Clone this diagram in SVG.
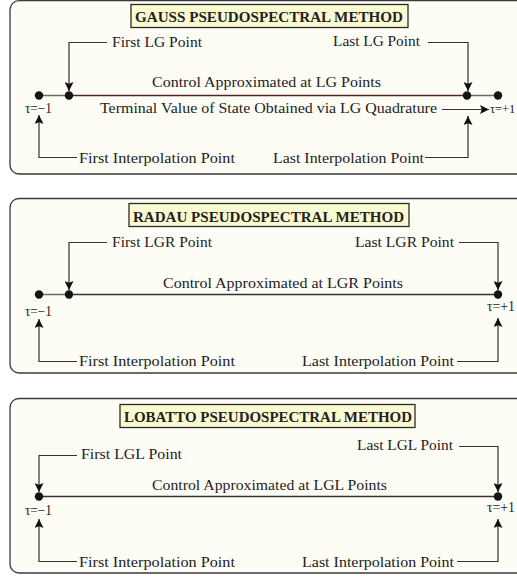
<svg xmlns="http://www.w3.org/2000/svg" width="517" height="577" viewBox="0 0 517 577">
<defs>
<marker id="ah" markerUnits="userSpaceOnUse" markerWidth="9" markerHeight="9" viewBox="0 0 10 10" refX="10" refY="5" orient="auto">
<path d="M0,0 L10,5 L0,10 L2,5 z" fill="#111"/>
</marker>
</defs>
<style>
.panel{fill:#fdfdf6;stroke:#3a3a3a;stroke-width:1.3}
.tbox{fill:#fbfbd2;stroke:#2a2a2a;stroke-width:1.3}
.title{font-family:"Liberation Serif",serif;font-weight:bold;font-size:15px;fill:#222}
.lbl{font-family:"Liberation Serif",serif;font-size:14px;fill:#222}
.arr{fill:none;stroke:#333;stroke-width:1.2;marker-end:url(#ah)}
.dot{fill:#141414}
.gray{stroke:#6a6a6a;stroke-width:1.5}
.red{stroke:#5a2424;stroke-width:1.6}
.dark{stroke:#333;stroke-width:1.6}
</style>

<g id="panel-gauss">
<rect class="panel" x="10" y="0.7" width="530" height="173.3" rx="9"/>
<g id="title-gauss"><rect class="tbox" x="131" y="4.5" width="277" height="23"/>
<text class="title" x="135" y="21.5" textLength="268" lengthAdjust="spacingAndGlyphs">GAUSS PSEUDOSPECTRAL METHOD</text></g>
</g>
<g id="panel-radau">
<rect class="panel" x="10" y="198.5" width="530" height="174.5" rx="9"/>
<g id="title-radau"><rect class="tbox" x="129" y="203.5" width="280" height="23"/>
<text class="title" x="133" y="221.5" textLength="271" lengthAdjust="spacingAndGlyphs">RADAU PSEUDOSPECTRAL METHOD</text></g>
</g>
<g id="panel-lobatto">
<rect class="panel" x="10" y="398.5" width="530" height="174.5" rx="9"/>
<g id="title-lobatto"><rect class="tbox" x="120" y="404.5" width="295" height="23"/>
<text class="title" x="124" y="421.5" textLength="288" lengthAdjust="spacingAndGlyphs">LOBATTO PSEUDOSPECTRAL METHOD</text></g>
</g>

<g id="connectors">
<line class="gray" x1="39" y1="95.5" x2="69" y2="95.5"/>
<line class="red" x1="69" y1="95.5" x2="467" y2="95.5"/>
<line class="gray" x1="467" y1="95.5" x2="498" y2="95.5"/>
<path class="arr" d="M107,42.5 H69 V91"/>
<path class="arr" d="M428,42.5 H468 V91"/>
<path class="arr" d="M77,157.5 H39 V115"/>
<path class="arr" d="M425,157.5 H468 V116"/>
<path class="arr" d="M442,109.5 H489"/>

<line class="gray" x1="39" y1="294.5" x2="69" y2="294.5"/>
<line class="dark" x1="69" y1="294.5" x2="498" y2="294.5"/>
<path class="arr" d="M107,242.5 H69 V290"/>
<path class="arr" d="M459,242.5 H498 V290"/>
<path class="arr" d="M77,361.5 H39 V319"/>
<path class="arr" d="M457,361.5 H498 V318"/>

<line class="dark" x1="39" y1="496.5" x2="498" y2="496.5"/>
<path class="arr" d="M77,455.5 H39 V492"/>
<path class="arr" d="M459,446.5 H498 V492"/>
<path class="arr" d="M77,561.5 H39 V519"/>
<path class="arr" d="M457,561.5 H498 V519"/>
</g>

<g id="gauss-nodes">
<g id="g-tau-minus"><circle class="dot" cx="39" cy="95.5" r="4.2"/><text class="lbl" x="25" y="113" textLength="27" lengthAdjust="spacingAndGlyphs">τ=−1</text></g>
<g id="g-first-lg"><circle class="dot" cx="69" cy="95.5" r="4.2"/><text class="lbl" x="112" y="47" textLength="90" lengthAdjust="spacingAndGlyphs">First LG Point</text></g>
<g id="g-last-lg"><circle class="dot" cx="467" cy="95.5" r="4.2"/><text class="lbl" x="333" y="46" textLength="87" lengthAdjust="spacingAndGlyphs">Last LG Point</text></g>
<g id="g-tau-plus"><circle class="dot" cx="498" cy="95.5" r="4.2"/><text class="lbl" x="490" y="113" style="font-size:12.5px">τ=+1</text></g>
<text class="lbl" x="152" y="87" textLength="229" lengthAdjust="spacingAndGlyphs">Control Approximated at LG Points</text>
<text class="lbl" x="100" y="113" textLength="337" lengthAdjust="spacingAndGlyphs">Terminal Value of State Obtained via LG Quadrature</text>
<text class="lbl" x="79" y="163" textLength="156" lengthAdjust="spacingAndGlyphs">First Interpolation Point</text>
<text class="lbl" x="273" y="163" textLength="151" lengthAdjust="spacingAndGlyphs">Last Interpolation Point</text>
</g>

<g id="radau-nodes">
<g id="r-tau-minus"><circle class="dot" cx="39" cy="294.5" r="4.2"/><text class="lbl" x="25" y="316" textLength="27" lengthAdjust="spacingAndGlyphs">τ=−1</text></g>
<g id="r-first-lgr"><circle class="dot" cx="69" cy="294.5" r="4.2"/><text class="lbl" x="112" y="247" textLength="100" lengthAdjust="spacingAndGlyphs">First LGR Point</text></g>
<g id="r-tau-plus"><circle class="dot" cx="498" cy="294.5" r="4.2"/><text class="lbl" x="487" y="311" textLength="28" lengthAdjust="spacingAndGlyphs">τ=+1</text></g>
<text class="lbl" x="355" y="247" textLength="99" lengthAdjust="spacingAndGlyphs">Last LGR Point</text>
<text class="lbl" x="163" y="288" textLength="240" lengthAdjust="spacingAndGlyphs">Control Approximated at LGR Points</text>
<text class="lbl" x="79" y="366" textLength="156" lengthAdjust="spacingAndGlyphs">First Interpolation Point</text>
<text class="lbl" x="302" y="366" textLength="152" lengthAdjust="spacingAndGlyphs">Last Interpolation Point</text>
</g>

<g id="lobatto-nodes">
<g id="l-tau-minus"><circle class="dot" cx="39" cy="496.5" r="4.2"/><text class="lbl" x="25" y="515" textLength="27" lengthAdjust="spacingAndGlyphs">τ=−1</text></g>
<g id="l-tau-plus"><circle class="dot" cx="498" cy="496.5" r="4.2"/><text class="lbl" x="487" y="512" textLength="28" lengthAdjust="spacingAndGlyphs">τ=+1</text></g>
<text class="lbl" x="81" y="459" textLength="101" lengthAdjust="spacingAndGlyphs">First LGL Point</text>
<text class="lbl" x="357" y="450" textLength="96" lengthAdjust="spacingAndGlyphs">Last LGL Point</text>
<text class="lbl" x="152" y="490" textLength="235" lengthAdjust="spacingAndGlyphs">Control Approximated at LGL Points</text>
<text class="lbl" x="79" y="567" textLength="156" lengthAdjust="spacingAndGlyphs">First Interpolation Point</text>
<text class="lbl" x="302" y="567" textLength="152" lengthAdjust="spacingAndGlyphs">Last Interpolation Point</text>
</g>
</svg>
